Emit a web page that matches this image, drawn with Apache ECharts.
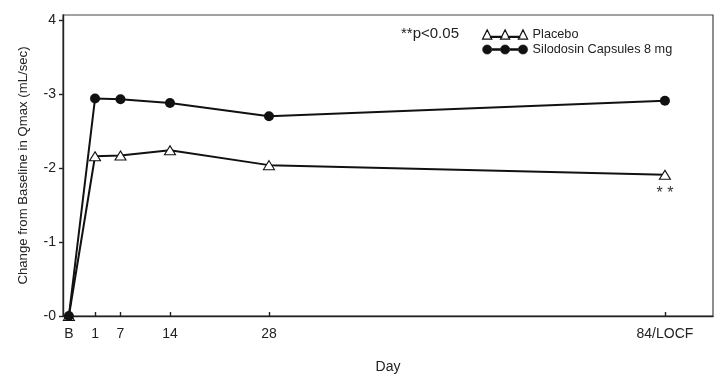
<!DOCTYPE html>
<html>
<head>
<meta charset="utf-8">
<script src="https://cdn.jsdelivr.net/npm/echarts@6/dist/echarts.min.js"></script>
<style>html,body{margin:0;padding:0;background:#fff}#c{width:725px;height:382px}</style>
</head>
<body>
<div id="c"></div>
<script>
// Visit tick labels and the (schematic) day-scale value each visit is drawn at
var visitLabels = ['B', '1', '7', '14', '28', '84/LOCF'];
var visitScale = [-0.3, 3.4, 7, 14, 28, 84];
// Change from baseline in Qmax (mL/sec)
var placebo = [0, 2.16, 2.17, 2.24, 2.04, 1.91];
var silodosin = [0, 2.94, 2.93, 2.88, 2.70, 2.91];
var yTicks = [0, 1, 2, 3, 4];
var yTickLabels = ['-0', '-1', '-2', '-3', '4'];
var seriesNames = ['Placebo', 'Silodosin Capsules 8 mg'];
var sigNote = '**p<0.05';
var sigMark = '* *';

function pairs(vals) {
  return vals.map(function (v, i) { return [visitScale[i], v]; });
}
var placeboData = pairs(placebo);
placeboData[placeboData.length - 1] = {
  value: placeboData[placeboData.length - 1],
  label: { show: true, position: 'bottom', distance: 6, formatter: sigMark,
           fontSize: 16, color: '#333', fontFamily: 'Liberation Sans' }
};

var font = 'Liberation Sans';
var triIcon = 'path://M8.2,7.9H19.3V8.9H8.2Z M25.7,7.9H36.8V8.9H25.7Z M0.5,10.5L5,1.5L9.5,10.5Z M18,10.5L22.5,1.5L27,10.5Z M35.5,10.5L40,1.5L44.5,10.5Z';
var dotIcon = 'path://M9,4.6H18.5V6.4H9Z M26.5,4.6H36V6.4H26.5Z M0.5,5.5A4.5,4.5 0 1,0 9.5,5.5A4.5,4.5 0 1,0 0.5,5.5Z M18,5.5A4.5,4.5 0 1,0 27,5.5A4.5,4.5 0 1,0 18,5.5Z M35.5,5.5A4.5,4.5 0 1,0 44.5,5.5A4.5,4.5 0 1,0 35.5,5.5Z';

var chart = echarts.init(document.getElementById('c'), null, { renderer: 'canvas' });
chart.setOption({
  animation: false,
  backgroundColor: '#fff',
  textStyle: { fontFamily: font },
  title: {
    text: sigNote, left: 401, top: 26, padding: 0,
    textStyle: { fontSize: 15, fontWeight: 'normal', color: '#222', fontFamily: font }
  },
  legend: {
    orient: 'vertical', left: 482, top: 28, padding: 0,
    itemWidth: 45, itemHeight: 11, itemGap: 2,
    symbolKeepAspect: true,
    textStyle: { fontSize: 12.7, color: '#222', fontFamily: font },
    data: [
      { name: seriesNames[0], icon: triIcon, itemStyle: { color: '#fff', borderColor: '#111', borderWidth: 1.2 } },
      { name: seriesNames[1], icon: dotIcon, itemStyle: { color: '#111', borderColor: '#111', borderWidth: 0.6 } }
    ]
  },
  grid: {
    left: 63, right: 12, top: 15, bottom: 66,
    show: true, borderColor: '#444', borderWidth: 1.2, backgroundColor: 'transparent'
  },
  xAxis: {
    type: 'value', min: -1.13, max: 90.8,
    name: 'Day', nameLocation: 'middle', nameGap: 44,
    nameTextStyle: { fontSize: 14, color: '#222', fontFamily: font },
    axisLine: { show: true, onZero: false, lineStyle: { color: '#222', width: 1.4 } },
    axisTick: { show: true, inside: true, length: 4, customValues: visitScale, lineStyle: { color: '#222', width: 1.4 } },
    axisLabel: {
      customValues: visitScale, margin: 11, fontSize: 14, color: '#222', fontFamily: font,
      formatter: function (v) {
        var best = 0;
        for (var i = 0; i < visitScale.length; i++) {
          if (Math.abs(visitScale[i] - v) < Math.abs(visitScale[best] - v)) best = i;
        }
        return visitLabels[best];
      }
    },
    splitLine: { show: false }
  },
  yAxis: {
    type: 'value', min: 0, max: 4.07,
    name: 'Change from Baseline in Qmax (mL/sec)', nameLocation: 'middle', nameGap: 33,
    nameTextStyle: { fontSize: 13.2, color: '#222', fontFamily: font },
    axisLine: { show: true, onZero: false, lineStyle: { color: '#222', width: 1.4 } },
    axisTick: { show: true, length: 4, customValues: yTicks, lineStyle: { color: '#222', width: 1.4 } },
    axisLabel: {
      customValues: yTicks, margin: 7, fontSize: 14, color: '#222', fontFamily: font,
      formatter: function (v) {
        var idx = yTicks.indexOf(Math.round(v));
        return idx >= 0 ? yTickLabels[idx] : '';
      }
    },
    splitLine: { show: false }
  },
  series: [
    {
      name: seriesNames[0], type: 'line', data: placeboData,
      symbol: 'triangle', symbolSize: [11, 9], showAllSymbol: true,
      lineStyle: { color: '#111', width: 2 },
      itemStyle: { color: '#fff', borderColor: '#111', borderWidth: 1.1 },
      z: 3
    },
    {
      name: seriesNames[1], type: 'line', data: pairs(silodosin),
      symbol: 'circle', symbolSize: 10, showAllSymbol: true,
      lineStyle: { color: '#111', width: 2 },
      itemStyle: { color: '#111', borderWidth: 0 },
      z: 4
    }
  ]
});
</script>
</body>
</html>
